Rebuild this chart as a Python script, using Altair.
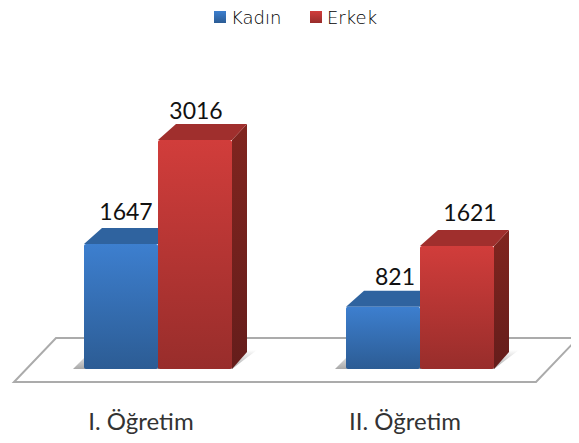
import altair as alt
import pandas as pd

# ---- chart values ----
categories = ["I. Öğretim", "II. Öğretim"]
series = ["Kadın", "Erkek"]
kadin = [1647, 821]
erkek = [3016, 1621]

# ---- layout (image pixels / value units) ----
PX = 0.0759           # pixels per value unit
W, H = 563, 427
X_MIN, X_MAX = 8, 571
Y_BASE = 369
def v(img_y):         # image y -> value units
    return (Y_BASE - img_y) / PX
bar_left = {("Kadın", 0): 84, ("Erkek", 0): 158, ("Kadın", 1): 346, ("Erkek", 1): 420}
BAR_W = 74
label_off = {("Kadın", 0): (5, 31), ("Erkek", 0): (1, 28), ("Kadın", 1): (12, 29), ("Erkek", 1): (13, 32)}
DX, DXR, DY = 18, 15, 16

front, tops, sides, labels = [], [], [], []
for s, vals in zip(series, [kadin, erkek]):
    for i, val in enumerate(vals):
        x0 = bar_left[(s, i)]
        x1 = x0 + BAR_W
        sid = f"{s}{i}"
        front.append(dict(id=sid, series=s, x=x0, x2=x1, y=0, y2=val))
        d = DY / PX
        tops += [
            dict(id=sid, series=s, x=x0, lo=val, hi=val),
            dict(id=sid, series=s, x=x0 + DX, lo=val, hi=val + d),
            dict(id=sid, series=s, x=x1, lo=val, hi=val + d),
            dict(id=sid, series=s, x=x1 + DXR, lo=val + d, hi=val + d),
        ]
        sides += [
            dict(id=sid, series=s, x=x1, lo=0, hi=val),
            dict(id=sid, series=s, x=x1 + DXR, lo=v(Y_BASE - 17), hi=val + d),
        ]
        ox, oy = label_off[(s, i)]
        labels.append(dict(x=(x0 + x1) / 2 + ox, y=val + oy / PX, text=str(val)))

floor = pd.DataFrame([
    dict(x=14, lo=v(382), hi=v(382)),
    dict(x=56, lo=v(382), hi=v(338)),
    dict(x=536, lo=v(382), hi=v(338)),
    dict(x=578, lo=v(338), hi=v(338)),
])
shadow = []
for gid, (a, b) in enumerate([(84, 232), (346, 494)]):
    shadow += [
        dict(id=gid, x=a - 11, lo=v(369), hi=v(369)),
        dict(id=gid, x=a + 8, lo=v(369), hi=v(350)),
        dict(id=gid, x=b, lo=v(369), hi=v(350)),
        dict(id=gid, x=b + 25, lo=v(350), hi=v(350)),
    ]
cat_labels = pd.DataFrame([
    dict(x=141, y=v(423), text=categories[0]),
    dict(x=405, y=v(423), text=categories[1]),
])
leg_sym = pd.DataFrame([dict(x=220, y=v(17), series="Kadın"), dict(x=316, y=v(17), series="Erkek")])
leg_txt = pd.DataFrame([dict(x=231, y=v(19), text="Kadın"), dict(x=327, y=v(19), text="Erkek")])

xs = alt.Scale(domain=[X_MIN, X_MAX], range=[0, W], nice=False, zero=False)
ys = alt.Scale(domain=[v(8 + H), v(8)], range=[H, 0], nice=False, zero=False)
X = lambda f="x": alt.X(f"{f}:Q", scale=xs, axis=None)
Y = lambda f: alt.Y(f"{f}:Q", scale=ys, axis=None)


def grad(c0, c1):
    return alt.Gradient(gradient="linear", x1=0, y1=0, x2=0, y2=1,
                        stops=[alt.GradientStop(offset=0, color=c0), alt.GradientStop(offset=1, color=c1)])


FRONT = {"Kadın": ("#3d7fcf", "#2c5c94"), "Erkek": ("#d13d3b", "#982d2b")}
TOP = {"Kadın": "#2f639f", "Erkek": "#a02f2d"}
SIDE = {"Kadın": ("#25507f", "#1e3f66"), "Erkek": ("#80251f", "#651d1b")}

df_f, df_t, df_s = pd.DataFrame(front), pd.DataFrame(tops), pd.DataFrame(sides)
layers = [
    alt.Chart(floor).mark_area(orient="vertical", fill="#ffffff", stroke="#ababab", strokeWidth=2)
    .encode(x=X(), y=Y("lo"), y2=alt.Y2("hi")),
    alt.Chart(pd.DataFrame(shadow)).mark_area(orient="vertical", fill=grad("#ffffff", "#a8a8a8"))
    .encode(x=X(), y=Y("lo"), y2=alt.Y2("hi"), detail="id:N"),
]
for s in series:
    layers += [
        alt.Chart(df_s[df_s.series == s]).mark_area(orient="vertical", fill=grad(*SIDE[s]))
        .encode(x=X(), y=Y("lo"), y2=alt.Y2("hi"), detail="id:N"),
        alt.Chart(df_t[df_t.series == s]).mark_area(orient="vertical", fill=TOP[s])
        .encode(x=X(), y=Y("lo"), y2=alt.Y2("hi"), detail="id:N"),
        alt.Chart(df_f[df_f.series == s]).mark_rect(fill=grad(*FRONT[s]), cornerRadius=2)
        .encode(x=X(), x2=alt.X2("x2"), y=Y("y"), y2=alt.Y2("y2")),
    ]
layers += [
    alt.Chart(pd.DataFrame(labels)).mark_text(font="Lato", fontSize=23, color="#111111")
    .encode(x=X(), y=Y("y"), text="text:N"),
    alt.Chart(cat_labels).mark_text(font="Lato", fontSize=24, color="#333333")
    .encode(x=X(), y=Y("y"), text="text:N"),
]
for s in series:
    layers.append(
        alt.Chart(leg_sym[leg_sym.series == s]).mark_square(size=144, fill=grad(*FRONT[s]), opacity=1)
        .encode(x=X(), y=Y("y"))
    )
layers.append(
    alt.Chart(leg_txt).mark_text(font="DejaVu Sans", fontSize=18, fontWeight=200, align="left", color="#000000")
    .encode(x=X(), y=Y("y"), text="text:N")
)

chart = (
    alt.layer(*layers)
    .properties(width=W, height=H, padding=0, background="white",
                autosize=alt.AutoSizeParams(type="none"))
    .configure_view(stroke=None)
)
chart.save("out.html", embed_options={"renderer": "svg", "actions": False})
